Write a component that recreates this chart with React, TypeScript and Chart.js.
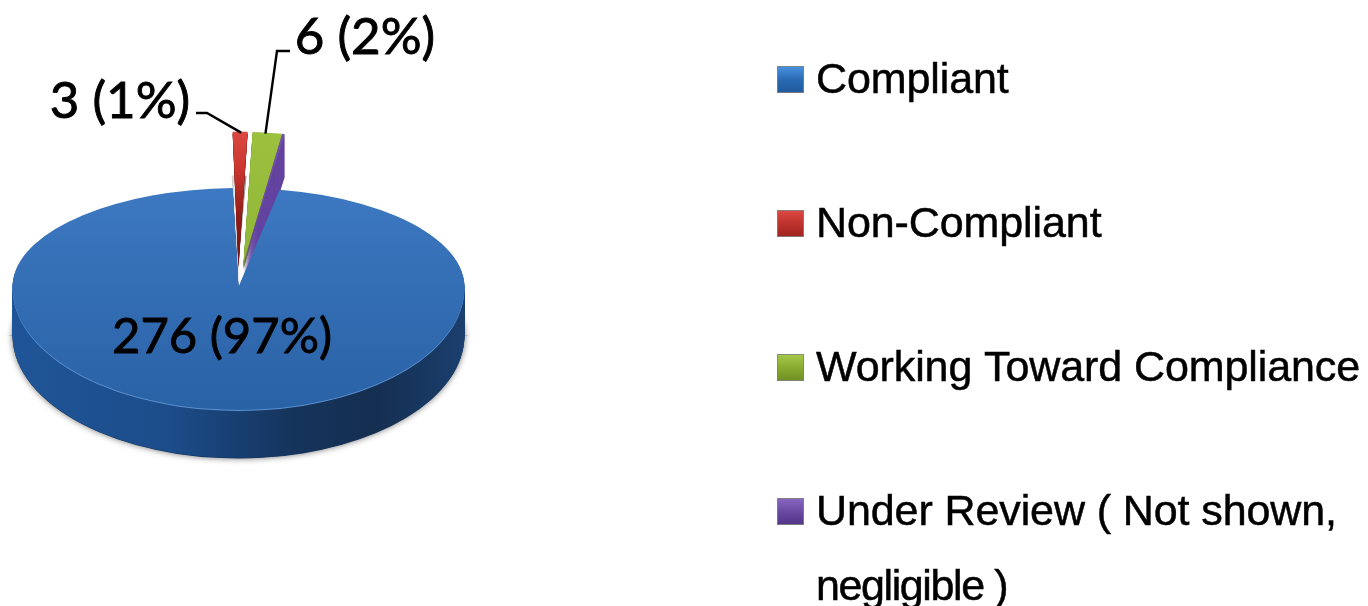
import React, { useEffect, useRef } from "react";
import { Chart, registerables } from "chart.js";

Chart.register(...registerables);

const categories = ["Compliant", "Non-Compliant", "Working Toward Compliance", "Under Review ( Not shown, negligible )"];
const legendLines = [["Compliant"], ["Non-Compliant"], ["Working Toward Compliance"], ["Under Review ( Not shown,", "negligible )"]];
const values = [276, 3, 6, 0.5];
const sliceLabels = ["276 (97%)", "3 (1%)", "6 (2%)", ""];
const faceTop = ["#3D79C2", "#D8433A", "#9CC13F", "#7050A8"];
const faceBottom = ["#2A62A6", "#B92A26", "#86AA2E", "#6A4A9E"];
const sideColors = ["#1C4A86", "#7E1512", "#6F8F24", "#6444A0"];
const swatchLight = ["#4A94E2", "#DE4A44", "#A6CA4C", "#8A68C2"];
const swatchMid = ["#2A6AB2", "#BE322D", "#88AC2F", "#6A4AA2"];
const swatchDark = ["#1F5A9C", "#A02420", "#6F8F24", "#523488"];
const liftX = [0, 0, 5, 5];
const liftY = [0, -22, -24, -24];
const liftSquash = [0, 0.59, 0.58, 0.58];
const liftDepth = [0, 3, 6, 43];

const W = 1368;
const H = 606;
const CX = 238.5;
const CY = 287;
const R = 226;
const SQ_TOP = 99 / 226;
const SQ_BOT = 123 / 226;
const DEPTH = 48;

function drawFlat(ctx: any, el: any, fill: any, dx: number, dy: number, sqTop = SQ_TOP) {
  const o = el.options;
  const prev = o.backgroundColor;
  o.backgroundColor = fill;
  for (const part of [0, 1]) {
    ctx.save();
    ctx.translate(dx, dy);
    ctx.beginPath();
    if (part === 0) ctx.rect(-20, -200, W + 40, CY + 200 + 0.5);
    else ctx.rect(-20, CY - 0.5, W + 40, H);
    ctx.clip();
    ctx.translate(CX, CY);
    ctx.scale(1, part === 0 ? sqTop : SQ_BOT);
    ctx.translate(-CX, -CY);
    el.draw(ctx);
    ctx.restore();
  }
  o.backgroundColor = prev;
}

const pie3d = {
  id: "pie3d",
  beforeDatasetsDraw(chart: any) {
    const ctx = chart.ctx;
    const arcs = chart.getDatasetMeta(0).data;

    const sideGrad = ctx.createLinearGradient(CX - R, 0, CX + R, 0);
    sideGrad.addColorStop(0, "#1F5597");
    sideGrad.addColorStop(0.35, "#1C4C8A");
    sideGrad.addColorStop(0.62, "#15345C");
    sideGrad.addColorStop(0.8, "#142E50");
    sideGrad.addColorStop(1, "#1B3F6E");

    const faceFill = (i: number) => {
      const g = ctx.createLinearGradient(0, CY - R, 0, CY + R);
      g.addColorStop(0, faceTop[i]);
      g.addColorStop(1, faceBottom[i]);
      return g;
    };
    const redFace = ctx.createLinearGradient(0, CY - R, 0, CY);
    redFace.addColorStop(0, "#DB4840");
    redFace.addColorStop(0.3, "#C8352F");
    redFace.addColorStop(0.65, "#8E1C18");
    redFace.addColorStop(1, "#7A1512");

    // Grey wall seen inside the gap of the disc.
    const wall = ctx.createLinearGradient(CX - 8, 0, CX + 8, 0);
    wall.addColorStop(0, "#A8A8A8");
    wall.addColorStop(0.35, "#EDEDED");
    wall.addColorStop(0.7, "#B0B0B0");
    wall.addColorStop(1, "#9A9A9A");
    drawFlat(ctx, arcs[1], wall, -1, -12, 0.44);

    // Lifted wedges: side walls first, then faces, so the blue disc overlaps them.
    const order = [1, 2, 3];
    for (const i of order) {
      for (let s = liftDepth[i]; s >= 1; s--) {
        drawFlat(ctx, arcs[i], sideColors[i], liftX[i], liftY[i] + s, liftSquash[i]);
      }
    }
    for (const i of order) {
      drawFlat(ctx, arcs[i], i === 1 ? redFace : faceFill(i), liftX[i], liftY[i], liftSquash[i]);
    }

    // Soft shadow below the disc.
    ctx.save();
    ctx.shadowColor = "rgba(0,0,0,0.55)";
    ctx.shadowBlur = 6;
    drawFlat(ctx, arcs[0], "#15345C", 0, DEPTH + 0.5);
    ctx.restore();
    for (let s = DEPTH; s >= 1; s--) {
      drawFlat(ctx, arcs[0], sideGrad, 0, s);
    }
    drawFlat(ctx, arcs[0], "#5C90CF", 0, 1);
    drawFlat(ctx, arcs[0], faceFill(0), 0, 0);
    return false;
  },
  afterDraw(chart: any) {
    const ctx = chart.ctx;
    const arcs = chart.getDatasetMeta(0).data;
    ctx.save();

    // Leader lines start from the outer rim of each lifted wedge.
    const rimTop = (i: number) => {
      const mid = (arcs[i].startAngle + arcs[i].endAngle) / 2;
      return {
        x: arcs[i].x + Math.cos(mid) * R + liftX[i],
        y: CY + Math.sin(mid) * R * liftSquash[i] + liftY[i],
      };
    };
    ctx.strokeStyle = "#000";
    ctx.lineWidth = 2.4;
    const a = rimTop(1);
    ctx.beginPath();
    ctx.moveTo(196, 113);
    ctx.lineTo(207, 113);
    ctx.lineTo(a.x + 1, a.y + 1);
    ctx.stroke();
    const b = rimTop(2);
    ctx.beginPath();
    ctx.moveTo(290, 51);
    ctx.lineTo(277, 51);
    ctx.lineTo(b.x - 2, b.y + 1);
    ctx.stroke();

    // Value labels.
    ctx.fillStyle = "#000";
    ctx.strokeStyle = "#000";
    ctx.lineWidth = 0.9;
    ctx.textAlign = "center";
    ctx.textBaseline = "alphabetic";
    const valueLabel = (t: string, x: number, y: number, size: number) => {
      ctx.font = `${size}px Lato`;
      ctx.fillText(t, x, y);
      ctx.strokeText(t, x, y);
    };
    valueLabel(sliceLabels[0], 222, 353, 49);
    valueLabel(sliceLabels[1], 120, 118, 51);
    valueLabel(sliceLabels[2], 365, 54, 51);

    // Legend.
    ctx.textAlign = "left";
    ctx.font = '43px "Liberation Sans"';
    legendLines.forEach((lines, i) => {
      const top = 66 + i * 144;
      const x = 777;
      const size = 27;
      const g = ctx.createLinearGradient(0, top, 0, top + size);
      g.addColorStop(0, swatchLight[i]);
      g.addColorStop(0.5, swatchMid[i]);
      g.addColorStop(1, swatchDark[i]);
      ctx.fillStyle = g;
      ctx.fillRect(x, top, size, size);
      ctx.strokeStyle = "rgba(130,130,130,0.85)";
      ctx.lineWidth = 1;
      ctx.strokeRect(x + 0.5, top + 0.5, size - 1, size - 1);
      ctx.fillStyle = "#000";
      ctx.strokeStyle = "#000";
      ctx.lineWidth = 0.5;
      lines.forEach((t, k) => {
        (ctx as any).letterSpacing = k === 1 ? "-1.4px" : "-0.1px";
        ctx.fillText(t, 816, top + 27 + k * 75);
        ctx.strokeText(t, 816, top + 27 + k * 75);
      });
    });
    ctx.restore();
  },
};

export default function App() {
  const ref = useRef<HTMLCanvasElement>(null);
  useEffect(() => {
    document.body.style.margin = "0";
    document.body.style.background = "#fff";
    const chart = new Chart(ref.current as any, {
      type: "pie",
      data: {
        labels: categories,
        datasets: [{ data: values, backgroundColor: faceTop, borderWidth: 0 }],
      },
      options: {
        responsive: false,
        animation: false,
        rotation: 10.5,
        radius: R,
        layout: {
          padding: { left: 0, top: 0, right: W - 2 * CX, bottom: H - 2 * CY },
        },
        plugins: { legend: { display: false }, tooltip: { enabled: false }, title: { display: false } },
      } as any,
      plugins: [pie3d as any],
    });
    return () => chart.destroy();
  }, []);
  return <canvas ref={ref} width={W} height={H} style={{ display: "block", width: W, height: H }} />;
}
